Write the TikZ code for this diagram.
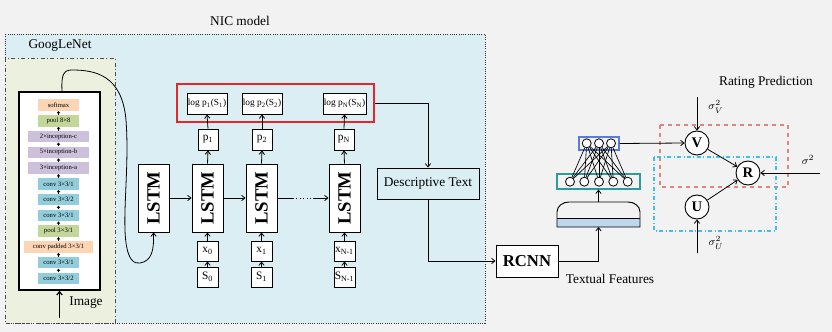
\documentclass[tikz,border=0pt]{standalone}
\usepackage{fontspec}
\usepackage{graphicx}
\setmainfont{Liberation Serif}
\usetikzlibrary{arrows.meta}
\newcommand\pxu{0.75pt}
\definecolor{bgc}{HTML}{F2F2F2}
\definecolor{nicfill}{HTML}{DAEEF3}
\definecolor{gfill}{HTML}{EBF1DE}
\definecolor{lorange}{HTML}{FCD5B4}
\definecolor{lgreen}{HTML}{C4D79B}
\definecolor{lpurple}{HTML}{CCC0DA}
\definecolor{lcyan}{HTML}{92CDDC}
\definecolor{shapeblue}{HTML}{BDD7EE}
\definecolor{tealc}{HTML}{2E9C9C}
\definecolor{bluebox}{HTML}{5B7BD5}
\definecolor{redbox}{HTML}{E8262A}
\definecolor{reddash}{HTML}{D98880}
\definecolor{bluedash}{HTML}{3FBFEF}
\tikzset{
  arr/.style={-{Straight Barb[length=2.5pt,width=4pt]}, line width=0.6pt},
  tinyarr/.style={-{Straight Barb[length=1.3pt,width=2.2pt]}, line width=0.5pt},
  box/.style={draw, fill=white, inner sep=0pt, line width=0.7pt},
  lstmbox/.style={box, minimum width=31*\pxu, minimum height=68*\pxu, font=\bfseries\fontsize{14}{14}\selectfont},
  pbox/.style={box, minimum width=20*\pxu, minimum height=21*\pxu, font=\fontsize{8.5}{9}\selectfont},
  xbox/.style={box, minimum width=21*\pxu, minimum height=20*\pxu, font=\fontsize{8.5}{9}\selectfont},
  logbox/.style={box, minimum width=40*\pxu, minimum height=21*\pxu, font=\fontsize{7}{8}\selectfont},
  layer/.style={inner sep=0pt, minimum height=11.5*\pxu, font=\fontsize{5}{5}\selectfont},
  neuron/.style={circle, draw, fill=white, line width=0.6pt, minimum size=9*\pxu, inner sep=0pt},
  var/.style={circle, draw, fill=white, line width=0.7pt, minimum size=24*\pxu, inner sep=0pt, font=\bfseries\fontsize{11}{11}\selectfont},
  lbl/.style={font=\fontsize{10}{12}\selectfont, inner sep=0pt},
  siglbl/.style={font=\fontsize{8}{9}\selectfont, inner sep=0pt}
}
\begin{document}
\begin{tikzpicture}[x=0.75pt,y=-0.75pt]
\fill[bgc] (0,0) rectangle (832,332);
\useasboundingbox (0,0) rectangle (832,332);
% NIC model region
\draw[fill=nicfill, densely dotted, line width=0.7pt, draw=black!80] (5,34) rectangle (485,323);
\node[lbl] (nic) at (240,21) {NIC model};
% GoogLeNet region
\draw[fill=gfill, dash dot, line width=0.7pt, draw=black!70] (5,58) rectangle (115,323);
\node[lbl] (goog) at (60,46) {GoogLeNet};
\node[draw, fill=white, line width=1.1pt, minimum width=81*\pxu, minimum height=198*\pxu, inner sep=0pt] (inner) at (59.5,191) {};
\foreach \i/\t/\col/\w in {1/{softmax}/lorange/41, 2/{pool 8×8}/lgreen/41, 3/{2×inception-c}/lpurple/61, 4/{5×inception-b}/lpurple/61, 5/{3×inception-a}/lpurple/61, 6/{conv 3×3/1}/lcyan/41, 7/{conv 3×3/2}/lcyan/41, 8/{conv 3×3/1}/lcyan/41, 9/{pool 3×3/1}/lgreen/41, 10/{conv padded 3×3/1}/lorange/69, 11/{conv 3×3/1}/lcyan/41, 12/{conv 3×3/2}/lcyan/41}
  \node[layer, fill=\col, minimum width=\w*\pxu] (l\i) at (58.5,{105+(\i-1)*15.77}) {\t};
\foreach \i [evaluate=\i as \j using int(\i-1)] in {2,...,12}
  \draw[tinyarr] (l\i.north) -- (l\j.south);
\coordinate (imgin) at (59.5,318);
\draw[arr, line width=0.9pt] (imgin) -- (inner.south);
\node[lbl] (imglbl) at (86,303) {Image};
% LSTMs
\node[lstmbox] (lstm0) at (153.5,198) {\rotatebox{90}{LSTM}};
\node[lstmbox] (lstm1) at (207.5,198) {\rotatebox{90}{LSTM}};
\node[lstmbox] (lstm2) at (261.5,198) {\rotatebox{90}{LSTM}};
\node[lstmbox] (lstm3) at (344.5,198) {\rotatebox{90}{LSTM}};
\draw[line width=0.6pt, -{Straight Barb[length=2.5pt,width=4pt]}] ([xshift=1.9pt]inner.north) .. controls (61,74) and (64,70) .. (72,70)
  .. controls (95,70) and (122,75) .. (126,120)
  .. controls (129,160) and (124,200) .. (125,230)
  .. controls (126,262) and (135,264) .. (140,263)
  .. controls (152,261) and (154,250) .. (lstm0.south);
\draw[arr] (lstm0.east) -- (lstm1.west);
\draw[arr] (lstm1.east) -- (lstm2.west);
\coordinate (g1) at (293,198);
\coordinate (g2) at (313,198);
\draw[line width=0.6pt] (lstm2.east) -- (g1);
\draw[line width=0.6pt, dotted] (g1) -- (g2);
\draw[arr] (g2) -- (lstm3.west);
% p boxes
\node[pbox] (p1) at (208,139.5) {p\textsubscript{1}};
\node[pbox] (p2) at (262,139.5) {p\textsubscript{2}};
\node[pbox] (pN) at (344,139.5) {p\textsubscript{N}};
\node[logbox] (lg1) at (207,103.5) {log p\textsubscript{1}(S\textsubscript{1})};
\node[logbox] (lg2) at (262,103.5) {log p\textsubscript{2}(S\textsubscript{2})};
\node[logbox, minimum width=43*\pxu] (lgN) at (344.5,103.5) {log p\textsubscript{N}(S\textsubscript{N})};
\node[draw=redbox, line width=1.2pt, minimum width=197*\pxu, minimum height=38*\pxu, inner sep=0pt] (red) at (275.5,103) {};
% x and S boxes
\node[xbox] (x0) at (207.5,251) {x\textsubscript{0}};
\node[xbox] (x1) at (261.5,251) {x\textsubscript{1}};
\node[xbox] (xN) at (344.5,251) {x\textsubscript{N-1}};
\node[xbox] (s0) at (207.5,277) {S\textsubscript{0}};
\node[xbox] (s1) at (261.5,277) {S\textsubscript{1}};
\node[xbox] (sN) at (344.5,277) {S\textsubscript{N-1}};
\foreach \a/\b in {s0/x0, s1/x1, sN/xN, x0/lstm1, x1/lstm2, xN/lstm3, lstm1/p1, lstm2/p2, lstm3/pN, p1/lg1, p2/lg2, pN/lgN}
  \draw[arr] (\a.north) -- (\b.south);
% descriptive text and RCNN
\node[draw, line width=0.7pt, minimum width=102*\pxu, minimum height=31*\pxu, inner sep=0pt, lbl] (desc) at (428,183.5) {Descriptive Text};
\node[box, minimum width=62*\pxu, minimum height=32*\pxu, font=\bfseries\fontsize{12.5}{13}\selectfont] (rcnn) at (527,261) {RCNN};
\draw[arr] (red.east) -| (desc.north);
\draw[arr] (desc.south) |- (rcnn.west);
% textual features shape
\fill[shapeblue] (557,218) rectangle (640,227);
\draw[line width=0.7pt] (557,227) -- (557,212) to[out=90,in=180] (569,202) -- (628,202) to[out=0,in=90] (640,212) -- (640,227) -- cycle;
\draw[line width=0.6pt] (557,218) -- (640,218);
\coordinate (shbot) at (598.5,227);
\coordinate (shtop) at (598.5,202);
\node[lbl] (tf) at (610,279) {Textual Features};
\draw[arr] (rcnn.east) -| (shbot);
\node[draw=tealc, line width=0.9pt, minimum width=83*\pxu, minimum height=15*\pxu, inner sep=0pt] (teal) at (598.5,181.5) {};
\draw[arr] (shtop) -- (teal.south);
\node[draw=bluebox, line width=0.9pt, minimum width=40*\pxu, minimum height=13*\pxu, inner sep=0pt] (blue) at (599,143.5) {};
\foreach \k/\x in {1/570, 2/584.3, 3/599, 4/613.3, 5/627.7}
  \node[neuron] (n\k) at (\x,181.7) {};
\foreach \k/\x in {1/586.7, 2/599, 3/611}
  \node[neuron] (t\k) at (\x,143.3) {};
\foreach \a in {1,2,3}
  \foreach \b in {1,...,5}
    \draw[line width=0.5pt] (t\a) -- (n\b);
% rating prediction
\node[lbl] (rp) at (766,82) {Rating Prediction};
\draw[reddash, dashed, line width=0.9pt] (660,125) rectangle (788,187);
\draw[bluedash, dash dot, line width=0.9pt] (654,157) rectangle (776,231);
\node[var] (V) at (697,143) {V};
\node[var] (R) at (748,173) {R};
\node[var] (U) at (697,207) {U};
\draw[arr] (blue.east) -- (V.west);
\coordinate (sv) at (697,97);
\coordinate (su) at (697,253);
\coordinate (ss) at (820,173);
\draw[arr] (sv) -- (V.north);
\draw[arr] (su) -- (U.south);
\draw[arr] (ss) -- (R.east);
\draw[arr] (V) -- (R);
\draw[arr] (U) -- (R);
\node[siglbl] (lsv) at (716,107) {$\sigma_V^2$};
\node[siglbl] (lsu) at (716,243) {$\sigma_U^2$};
\node[siglbl] (lss) at (808,160) {$\sigma^2$};
\end{tikzpicture}
\end{document}
